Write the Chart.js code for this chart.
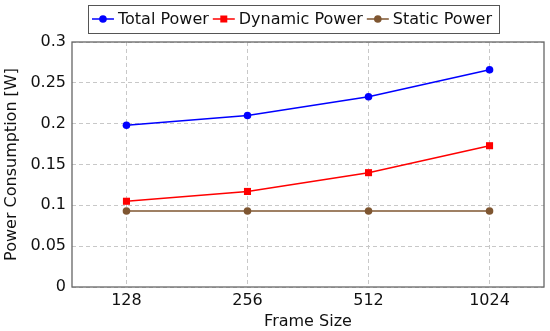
<!DOCTYPE html>
<html>
<head>
<meta charset="utf-8">
<script src="https://cdn.jsdelivr.net/npm/chart.js@4/dist/chart.umd.min.js"></script>
<style>
  html, body { margin: 0; padding: 0; background: #fff; }
  #wrap { width: 550px; height: 331px; }
</style>
</head>
<body>
<div id="wrap"><canvas id="chart"></canvas></div>
<script>
const frameSizes = ['128', '256', '512', '1024'];
const totalPower = [0.198, 0.210, 0.233, 0.266];
const dynamicPower = [0.105, 0.117, 0.140, 0.173];
const staticPower = [0.093, 0.093, 0.093, 0.093];
const yTicks = [0, 0.05, 0.1, 0.15, 0.2, 0.25, 0.3];

Chart.defaults.font.family = 'DejaVu Sans';
Chart.defaults.font.size = 16;
Chart.defaults.color = '#111';

const toPoints = (vals) => vals.map((v, i) => ({ x: i, y: v }));

function makeSet(label, vals, color, style) {
    return {
        label: label,
        data: toPoints(vals),
        borderColor: color,
        backgroundColor: color,
        borderWidth: 1.5,
        pointStyle: style,
        pointRadius: style === 'rect' ? 5 : 3.8,
        pointBorderWidth: 0,
        tension: 0
    };
}

function drawMarker(ctx, style, color, cx, cy) {
    ctx.fillStyle = color;
    ctx.beginPath();
    if (style === 'rect') {
        ctx.rect(cx - 3.5, cy - 3.5, 7, 7);
    } else {
        ctx.arc(cx, cy, 3.8, 0, Math.PI * 2);
    }
    ctx.fill();
}

// legend with line+marker samples, and the plot frame
const decorations = {
    id: 'decorations',
    afterDraw(chart) {
        const ctx = chart.ctx;
        const sets = chart.data.datasets;
        const lineW = 22, gapText = 4, gapItem = 4, padX = 4;
        ctx.save();
        ctx.font = '16px "DejaVu Sans"';
        const widths = sets.map(ds => lineW + gapText + ctx.measureText(ds.label).width);
        const total = widths.reduce((a, b) => a + b, 0) + gapItem * (sets.length - 1);
        const cy = 19;
        let x = chart.width / 2 + 17 - total / 2;
        const boxLeft = x - padX;
        sets.forEach((ds, i) => {
            ctx.strokeStyle = ds.borderColor;
            ctx.lineWidth = 1.5;
            ctx.beginPath();
            ctx.moveTo(x, cy);
            ctx.lineTo(x + lineW, cy);
            ctx.stroke();
            drawMarker(ctx, ds.pointStyle, ds.borderColor, x + lineW / 2, cy);
            ctx.fillStyle = '#111';
            ctx.textBaseline = 'middle';
            ctx.fillText(ds.label, x + lineW + gapText, cy + 1);
            x += widths[i] + gapItem;
        });
        const boxRight = x - gapItem + padX + 3;
        ctx.strokeStyle = '#555';
        ctx.lineWidth = 1;
        ctx.strokeRect(Math.round(boxLeft) + 0.5, 5.5, Math.round(boxRight - boxLeft), 28);

        const a = chart.chartArea;
        ctx.strokeStyle = '#666';
        ctx.lineWidth = 1.3;
        ctx.strokeRect(a.left, a.top, a.right - a.left, a.bottom - a.top);
        ctx.restore();
    }
};

new Chart(document.getElementById('chart'), {
    type: 'line',
    data: {
        datasets: [
            makeSet('Total Power', totalPower, '#0000ff', 'circle'),
            makeSet('Dynamic Power', dynamicPower, '#ff0000', 'rect'),
            makeSet('Static Power', staticPower, '#7f5631', 'circle')
        ]
    },
    options: {
        responsive: true,
        maintainAspectRatio: false,
        animation: false,
        layout: { padding: { top: 42, right: 6, left: 0, bottom: 0 } },
        plugins: {
            legend: { display: false },
            tooltip: { enabled: false }
        },
        scales: {
            x: {
                type: 'linear',
                min: -0.45,
                max: 3.45,
                afterBuildTicks(scale) {
                    scale.ticks = frameSizes.map((c, i) => ({ value: i }));
                },
                afterFit(scale) { scale.height = 44; },
                ticks: {
                    callback: (v) => frameSizes[v] ?? '',
                    padding: 4,
                    maxRotation: 0
                },
                grid: { color: '#c8c8c8', drawTicks: false },
                border: { display: false, dash: [4, 3] },
                title: { display: true, text: 'Frame Size', padding: { top: 0, bottom: 0 } }
            },
            y: {
                min: 0,
                max: 0.3,
                afterBuildTicks(scale) {
                    scale.ticks = yTicks.map(v => ({ value: v }));
                },
                afterFit(scale) { scale.width = 72; },
                ticks: {
                    callback: (v) => String(Math.round(v * 100) / 100),
                    padding: 6
                },
                grid: { color: '#c8c8c8', drawTicks: false },
                border: { display: false, dash: [4, 3] },
                title: { display: true, text: 'Power Consumption [W]', padding: { top: 2, bottom: 4 } }
            }
        }
    },
    plugins: [decorations]
});
</script>
</body>
</html>
